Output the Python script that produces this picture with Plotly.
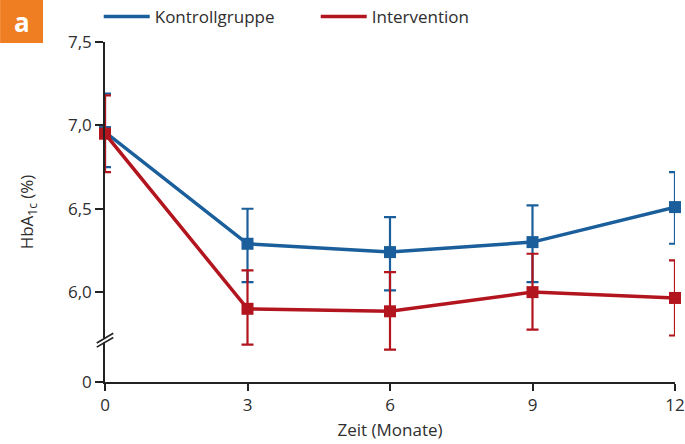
import plotly.graph_objects as go

months = [0, 3, 6, 9, 12]
kontroll = [6.96, 6.29, 6.24, 6.30, 6.51]
kontroll_upper = [7.19, 6.50, 6.45, 6.52, 6.72]
kontroll_lower = [6.75, 6.06, 6.01, 6.06, 6.29]
interv = [6.95, 5.90, 5.885, 6.00, 5.965]
interv_upper = [7.18, 6.13, 6.12, 6.23, 6.19]
interv_lower = [6.72, 5.685, 5.655, 5.775, 5.74]

y_ticks = [7.5, 7.0, 6.5, 6.0]
y_ticklabels = ["7,5", "7,0", "6,5", "6,0"]
y_zero_pos = 5.461  # position of the "0" label below the axis break
x_ticks = [0, 3, 6, 9, 12]

BLUE = "#1a5f9b"
RED = "#b3151f"
AX = "#222222"
TXT = "#2e2e2e"
FONT = "Open Sans"


def err(vals, upper, lower):
    return dict(type="data", symmetric=False,
                array=[u - v for u, v in zip(upper, vals)],
                arrayminus=[v - l for v, l in zip(vals, lower)])


fig = go.Figure()
for name, vals, up, lo, col in [("Kontrollgruppe", kontroll, kontroll_upper, kontroll_lower, BLUE),
                                ("Intervention", interv, interv_upper, interv_lower, RED)]:
    fig.add_trace(go.Scatter(
        x=months, y=vals, name=name, mode="lines+markers", showlegend=False,
        legendgroup=name,
        line=dict(color=col, width=3.5),
        marker=dict(symbol="square", size=12, color=col),
        error_y=dict(**err(vals, up, lo), color=col, thickness=2.2, width=6),
        cliponaxis=False))
    # legend entry (line sample only)
    fig.add_trace(go.Scatter(
        x=[None], y=[None], name=name, mode="lines", legendgroup=name,
        line=dict(color=col, width=3.5), showlegend=True))

# axis break marks
shapes = [
    dict(type="path", xref="paper", yref="y",
         path="M -0.03 5.69 L 0.03 5.76 L 0.03 5.735 L -0.03 5.665 Z",
         fillcolor="white", line=dict(width=0), layer="above"),
]
for off in (0.0, 0.025):
    shapes.append(dict(type="line", xref="paper", yref="y",
                       x0=-0.0145, x1=0.0145, y0=5.67 + off, y1=5.728 + off,
                       line=dict(color=AX, width=1.6), layer="above"))
# panel label box
shapes.append(dict(type="rect", xref="paper", yref="paper",
                   x0=-0.184, x1=-0.1088, y0=0.997, y1=1.1235,
                   fillcolor="#ef7d22", line=dict(width=0)))

fig.update_layout(
    width=685, height=444,
    margin=dict(l=105, r=10, t=42, b=62, autoexpand=False),
    paper_bgcolor="white", plot_bgcolor="white",
    font=dict(family=FONT, size=17, color=TXT),
    showlegend=True,
    legend=dict(orientation="h", x=-0.011, y=1.0735, xanchor="left", yanchor="middle",
                font=dict(size=17, color=TXT), itemwidth=46,
                bgcolor="rgba(0,0,0,0)", entrywidth=156),
    xaxis=dict(range=[0, 12], tickvals=x_ticks, ticktext=[str(t) for t in x_ticks],
               showline=True, linecolor=AX, linewidth=1.6, ticks="outside",
               ticklen=7, tickwidth=1.6, tickcolor=AX, showgrid=False, zeroline=False,
               automargin=False,
               title=dict(text="Zeit (Monate)", standoff=9, font=dict(size=17)),
               tickfont=dict(size=17)),
    yaxis=dict(range=[y_zero_pos, 7.5], tickvals=y_ticks + [y_zero_pos],
               ticktext=y_ticklabels + ["0"],
               showline=True, linecolor=AX, linewidth=1.6, ticks="outside",
               ticklen=8, tickwidth=1.6, tickcolor=AX, showgrid=False, zeroline=False,
               automargin=False,
               title=dict(text="HbA<sub>1c</sub> (%)", standoff=30, font=dict(size=17)),
               tickfont=dict(size=17)),
    shapes=shapes,
    annotations=[dict(text="<b>a</b>", xref="paper", yref="paper",
                      x=-0.1464, y=1.06, xanchor="center", yanchor="middle",
                      showarrow=False,
                      font=dict(size=26, color="white", family=FONT))],
)

fig.write_html("out.html", config={"displayModeBar": False},
               post_script="document.body.style.margin='0';document.body.style.overflow='hidden';")
